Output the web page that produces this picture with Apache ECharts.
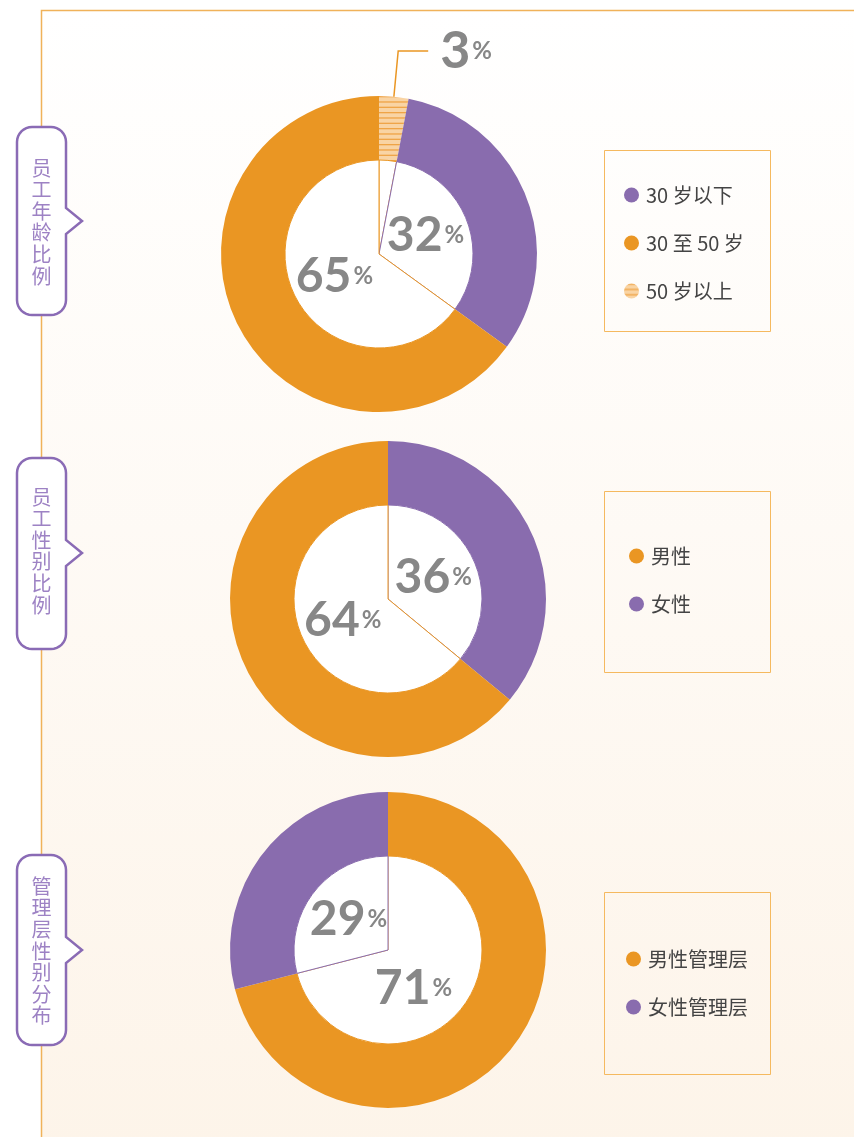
<!DOCTYPE html>
<html>
<head>
<meta charset="utf-8">
<script src="https://cdn.jsdelivr.net/npm/echarts@6/dist/echarts.min.js"></script>
<style>
html,body{margin:0;padding:0;background:#fff}
#main{width:854px;height:1137px}
</style>
</head>
<body>
<div id="main"></div>
<script>
// 数据（按饼图从正上方顺时针的顺序）
var ageNames = ['50 岁以上', '30 岁以下', '30 至 50 岁'];
var ageValues = [3, 32, 65];
var genderNames = ['女性', '男性'];
var genderValues = [36, 64];
var mgmtNames = ['男性管理层', '女性管理层'];
var mgmtValues = [71, 29];
// 图例顺序
var ageLegend = ['30 岁以下', '30 至 50 岁', '50 岁以上'];
var genderLegend = ['男性', '女性'];
var mgmtLegend = ['男性管理层', '女性管理层'];
var titles = ['员工年龄比例', '员工性别比例', '管理层性别分布'];

var ORANGE = '#ea9623', PURPLE = '#896cae';

// 条纹填充（50岁以上）
var hatch = document.createElement('canvas');
hatch.width = 8; hatch.height = 16;
var hc = hatch.getContext('2d');
hc.fillStyle = '#f9d4a4';
hc.fillRect(0, 0, 8, 16);
hc.fillStyle = '#efa446';
[0, 5.33, 10.67].forEach(function (y) { hc.fillRect(0, y, 8, 1.3); });
var hatchFill = {image: hatch, repeat: 'repeat'};

var colorOf = {
    '30 岁以下': PURPLE, '30 至 50 岁': ORANGE, '50 岁以上': hatchFill,
    '男性': ORANGE, '女性': PURPLE,
    '男性管理层': ORANGE, '女性管理层': PURPLE
};
var lineOf = function (n) { return colorOf[n] === PURPLE ? PURPLE : ORANGE; };
// 个别中心标签的微调
var labelShift = {'男性管理层': [-14, 8]};

var pctRich = {
    n: {fontSize: 48, fontWeight: 'bold', fontFamily: 'Lato', color: '#878787'},
    p: {fontSize: 24, fontWeight: 'bold', fontFamily: 'Lato', color: '#878787', padding: [0, 0, 0, 2]}
};
function pct(p) { return '{n|' + p.value + '}{p|%}'; }

function ring(center, names, values, outsideName) {
    var outer = {
        type: 'pie', center: center, radius: [94, 158], startAngle: 90,
        silent: true, avoidLabelOverlap: false,
        label: {show: false}, labelLine: {show: false},
        data: names.map(function (n, i) {
            var d = {name: n, value: values[i], itemStyle: {color: colorOf[n]}};
            if (n === outsideName) {
                d.label = {show: true, position: 'outside', formatter: pct, distanceToLabelLine: 12,
                    rich: {n: Object.assign({}, pctRich.n, {fontSize: 52}), p: pctRich.p}};
                d.labelLine = {show: true, length: 46, length2: 30, lineStyle: {color: ORANGE, width: 1.5}};
            }
            return d;
        })
    };
    var inner = {
        type: 'pie', center: center, radius: [0, 94], startAngle: 90,
        silent: true, avoidLabelOverlap: false,
        label: {show: true, position: 'inside', formatter: pct, rich: pctRich},
        labelLine: {show: false},
        data: names.map(function (n, i) {
            var d = {name: n, value: values[i],
                itemStyle: {color: '#fff', borderColor: lineOf(n), borderWidth: 1}};
            if (n === outsideName) d.label = {show: false};
            if (labelShift[n]) d.label = {offset: labelShift[n]};
            return d;
        })
    };
    return [outer, inner];
}

// 左侧带尖角的圆角标签框
function callout(y0, y1, yc, h) {
    var xl = 17, xr = 66, r = 15, tip = 82, pts = [];
    function arc(cx, cy, a0, a1) {
        for (var k = 0; k <= 8; k++) {
            var a = (a0 + (a1 - a0) * k / 8) * Math.PI / 180;
            pts.push([cx + r * Math.cos(a), cy + r * Math.sin(a)]);
        }
    }
    arc(xl + r, y0 + r, 180, 270);
    arc(xr - r, y0 + r, 270, 360);
    pts.push([xr, yc - h], [tip, yc], [xr, yc + h]);
    arc(xr - r, y1 - r, 0, 90);
    arc(xl + r, y1 - r, 90, 180);
    return pts;
}

var boxes = [[127, 315, 221, 13, 222], [458, 649, 553, 13, 551], [855, 1045, 950, 13, 951]];
var graphics = [{
    type: 'rect', z: -10, silent: true,
    shape: {x: 41.5, y: 10.5, width: 830, height: 1140},
    style: {
        fill: {type: 'linear', x: 0, y: 0, x2: 0, y2: 1,
            colorStops: [{offset: 0, color: '#ffffff'}, {offset: 1, color: '#fdf4e9'}]},
        stroke: '#f0b25a', lineWidth: 1.5
    }
}];
boxes.forEach(function (b, i) {
    graphics.push({type: 'polygon', silent: true, shape: {points: callout(b[0], b[1], b[2], b[3])},
        style: {fill: '#fff', stroke: '#8a6bb5', lineWidth: 2.5}});
    graphics.push({type: 'text', silent: true, x: 41.5, y: b[4],
        style: {text: titles[i].split('').join('\n'), fill: '#9d82c4',
            font: '20px "Noto Sans CJK SC"', lineHeight: 21.6,
            textAlign: 'center', textVerticalAlign: 'middle'}});
});
[[150.5, 181], [491.5, 181], [892.5, 182]].forEach(function (b) {
    graphics.push({type: 'rect', silent: true, shape: {x: 604.5, y: b[0], width: 166, height: b[1]},
        style: {fill: 'none', stroke: '#f5b95f', lineWidth: 1}});
});

function legend(data, left, top) {
    return {
        data: data, orient: 'vertical', left: left, top: top, padding: 0,
        icon: 'circle', itemWidth: 15, itemHeight: 15, itemGap: 28,
        selectedMode: false,
        textStyle: {fontSize: 20, color: '#444', fontFamily: '"Noto Sans CJK SC"', padding: [0, 0, 0, 2]}
    };
}

var chart = echarts.init(document.getElementById('main'));
chart.setOption({
    animation: false,
    graphic: graphics,
    legend: [
        legend(ageLegend, 624, 185),
        legend(genderLegend, 629, 546),
        legend(mgmtLegend, 626, 949)
    ],
    series: [].concat(
        ring([379, 254], ageNames, ageValues, '50 岁以上'),
        ring([388, 599], genderNames, genderValues),
        ring([388, 950], mgmtNames, mgmtValues)
    )
});
</script>
</body>
</html>
